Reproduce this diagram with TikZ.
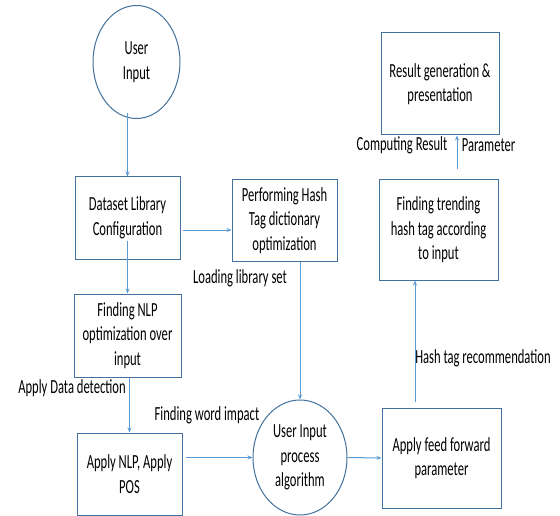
\documentclass[tikz,border=0pt]{standalone}
\usepackage{fontspec}
\setmainfont[FakeStretch=0.63]{Carlito}
\usetikzlibrary{arrows.meta,shapes.geometric}
\definecolor{boxc}{RGB}{65,113,156}
\definecolor{arrc}{RGB}{91,155,213}
\begin{document}
\begin{tikzpicture}[x=1pt,y=-1pt,
  txt/.style={font=\fontsize{20}{24.5}\selectfont, inner sep=0pt, align=center},
  box/.style={txt, draw=boxc, line width=1pt, rectangle},
  oval/.style={txt, draw=boxc, line width=1pt, ellipse},
  arr/.style={draw=arrc, line width=1pt, -{Stealth[length=5pt,width=4pt]}}]
\useasboundingbox (0,0) rectangle (560,516);
% nodes
\node[oval, minimum width=87pt, minimum height=113pt] (ui) at (136.5,62) {User\\Input};
\node[box, minimum width=105pt, minimum height=82pt] (dsl) at (127.5,218) {Dataset Library\\Configuration};
\node[box, minimum width=105pt, minimum height=81pt] (hash) at (284.5,220.5) {Performing Hash\\Tag dictionary\\optimization};
\node[box, minimum width=107pt, minimum height=83pt] (nlp) at (127.5,335.5) {Finding NLP\\optimization over\\input};
\node[box, minimum width=105pt, minimum height=82pt] (anlp) at (129.5,474) {Apply NLP, Apply\\POS};
\node[oval, minimum width=94pt, minimum height=115pt] (proc) at (300,457.5) {User Input\\process\\algorithm};
\node[box, minimum width=119pt, minimum height=100pt] (ff) at (441.5,458) {Apply feed forward\\parameter};
\node[box, minimum width=119pt, minimum height=100pt] (trend) at (438.5,230) {Finding trending\\hash tag according\\to input};
\node[box, minimum width=118pt, minimum height=102pt] (res) at (440,84) {Result generation \&\\presentation};
% labels
\node[txt] (l1) at (240,278) {Loading library set};
\node[txt] (l2) at (72,388) {Apply Data detection};
\node[txt] (l3) at (207,415) {Finding word impact};
\node[txt] (l4) at (483,358) {Hash tag recommendation};
\node[txt] (l5) at (402,145) {Computing Result};
\node[txt] (l6) at (488.5,145) {Parameter};
% connectors
\draw[arr, shorten <=-6pt] (dsl.north |- ui.south) -- (dsl.north);
\draw[arr, shorten <=-19pt] (dsl.south) -- (nlp.north);
\draw[arr, shorten <=2pt] ([yshift=-12pt]dsl.east) -- ([yshift=-12pt]dsl.east -| hash.west);
\draw[arr] (proc.north |- hash.south) -- (proc.north);
\draw[arr] (anlp.north |- nlp.south) -- (anlp.north);
\draw[arr, shorten <=3pt] (anlp.east |- proc.west) -- (proc.west);
\draw[arr] (proc.east) -- (ff.west);
\draw[arr, shorten <=6pt] ([xshift=-26.5pt]ff.north) -- ([xshift=-26.5pt]ff.north |- trend.south);
\draw[arr, shorten <=10pt] ([xshift=18.5pt]trend.north) -- ([xshift=18.5pt]trend.north |- res.south);
\end{tikzpicture}
\end{document}
